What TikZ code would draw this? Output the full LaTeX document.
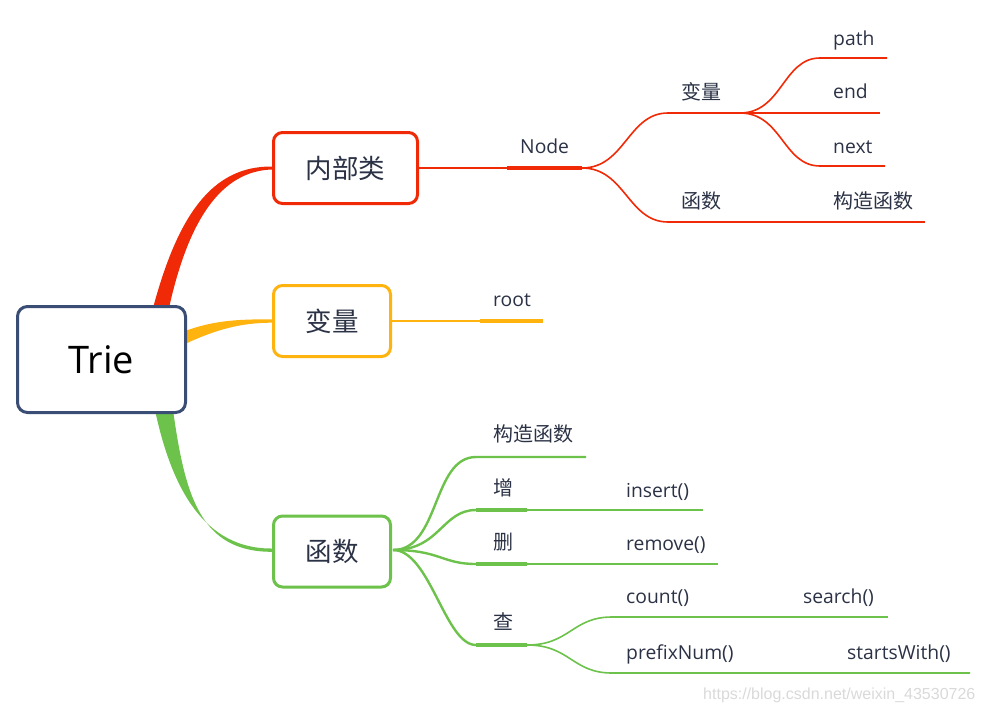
\documentclass[tikz,border=0pt]{standalone}
\usepackage{fontspec}
\setmainfont{Open Sans}
\newfontfamily\cjk{Noto Sans CJK SC}
\newfontfamily\wmfont{Liberation Sans}
\definecolor{cred}{HTML}{F02A07}
\definecolor{corange}{HTML}{FFB30F}
\definecolor{cgreen}{HTML}{6CC24A}
\definecolor{cblue}{HTML}{3A4D75}
\definecolor{ctext}{HTML}{2B3245}
\definecolor{cwm}{HTML}{D9D9D9}
\tikzset{
  mainbox/.style={draw=cblue, line width=3pt, rounded corners=10pt, fill=white,
    minimum width=168pt, minimum height=106pt, inner sep=0pt,
    font=\fontsize{38}{44}\selectfont, text=black},
  topicbox/.style={line width=3pt, rounded corners=9pt, fill=white,
    minimum height=71pt, inner sep=0pt,
    font=\cjk\fontsize{26.5}{30}\selectfont, text=ctext},
  leaf/.style={anchor=base west, inner sep=0pt, text=ctext,
    font=\fontsize{19.3}{23}\selectfont},
  cleaf/.style={anchor=west, inner sep=0pt, text=ctext,
    font=\cjk\fontsize{20}{24}\selectfont},
  thin/.style={line width=1.6pt},
  mid/.style={line width=2.4pt},
  thick/.style={line width=3.4pt}
}
\begin{document}
\begin{tikzpicture}[x=1pt,y=-1pt]
\useasboundingbox (0,0) rectangle (984,712);

% tapered main branches
\fill[cred] (153,308) .. controls (178,215) and (212,166) .. (272,166.5) -- (272,169.5) .. controls (220,171) and (188,222) .. (169,308) -- cycle;
\fill[corange] (185,331) .. controls (215,320) and (240,319.3) .. (272,319.3) -- (272,322.7) .. controls (240,322.7) and (215,330) .. (185,344) -- cycle;
\fill[cgreen] (155,410) .. controls (172,490) and (205,549) .. (272,548.5) -- (272,551.8) .. controls (200,552) and (185,495) .. (173,410) -- cycle;

% boxes
\node[mainbox] (trie) at (101.5,359.5) {Trie};
\node[topicbox, draw=cred, minimum width=144pt] (inner) at (345.5,168) {内部类};
\node[topicbox, draw=corange, minimum width=117pt] (var) at (332,321) {变量};
\node[topicbox, draw=cgreen, minimum width=117pt] (func) at (332,551.5) {函数};

% ---------- red subtree ----------
\coordinate (nA) at (507,168);
\coordinate (nB) at (582,168);
\coordinate (vA) at (668,113);
\coordinate (vB) at (740,113);
\coordinate (fA) at (668,222);
\coordinate (fB) at (733,222);
\coordinate (fC) at (925,222);
\coordinate (pA) at (820,58);
\coordinate (pB) at (887,58);
\coordinate (eB) at (880,113);
\coordinate (xA) at (820,166);
\coordinate (xB) at (885,166);

\draw[cred, mid] (inner.east) -- (nA);
\draw[cred, thick] (nA) -- (nB);
\draw[cred, thin] (nB) .. controls (625,168) and (628,113) .. (vA);
\draw[cred, mid] (vA) -- (vB);
\draw[cred, thin] (nB) .. controls (625,168) and (628,222) .. (fA);
\draw[cred, mid] (fA) -- (fB);
\draw[cred, thin] (fB) -- (fC);
\draw[cred, thin] (vB) .. controls (782,113) and (783,58) .. (pA) -- (pB);
\draw[cred, thin] (vB) -- (eB);
\draw[cred, thin] (vB) .. controls (782,113) and (783,166) .. (xA) -- (xB);

\node[leaf] (lnode) at (520,153) {Node};
\node[cleaf] (lvar) at (681,92) {变量};
\node[cleaf] (lfunc) at (681,201) {函数};
\node[leaf] (lpath) at (833,45) {path};
\node[leaf] (lend) at (833,98) {end};
\node[leaf] (lnext) at (833,153) {next};
\node[cleaf] (lctor) at (833,201) {构造函数};

% ---------- orange subtree ----------
\coordinate (rA) at (480,321);
\coordinate (rB) at (543,321);
\draw[corange, line width=2pt] (var.east) -- (rA);
\draw[corange, thick] (rA) -- (rB);
\node[leaf] (lroot) at (493,306) {root};

% ---------- green subtree ----------
\coordinate (g0) at (393,550);
\coordinate (cA) at (476,457);
\coordinate (cB) at (586,457);
\coordinate (iA) at (476,510);
\coordinate (iB) at (527,510);
\coordinate (iC) at (703,510);
\coordinate (dA) at (476,564);
\coordinate (dB) at (527,564);
\coordinate (dC) at (718,564);
\coordinate (qA) at (476,645);
\coordinate (qB) at (527,645);
\coordinate (sA) at (612,617);
\coordinate (sB) at (705,617);
\coordinate (sC) at (888,617);
\coordinate (tA) at (612,673);
\coordinate (tB) at (970,673);

\draw[cgreen, mid] (g0) .. controls (440,550) and (432,457) .. (cA) -- (cB);
\draw[cgreen, mid] (g0) .. controls (440,550) and (442,510) .. (iA);
\draw[cgreen, thick] (iA) -- (iB);
\draw[cgreen, thin] (iB) -- (iC);
\draw[cgreen, mid] (g0) .. controls (440,550) and (442,564) .. (dA);
\draw[cgreen, thick] (dA) -- (dB);
\draw[cgreen, thin] (dB) -- (dC);
\draw[cgreen, mid] (g0) .. controls (430,550) and (445,645) .. (qA);
\draw[cgreen, thick] (qA) -- (qB);
\draw[cgreen, thin] (qB) .. controls (570,645) and (572,617) .. (sA);
\draw[cgreen, mid] (sA) -- (sB);
\draw[cgreen, thin] (sB) -- (sC);
\draw[cgreen, thin] (qB) .. controls (570,645) and (572,673) .. (tA) -- (tB);

\node[cleaf] (gctor) at (493,434) {构造函数};
\node[cleaf] (gadd) at (493,488) {增};
\node[cleaf] (gdel) at (493,542) {删};
\node[cleaf] (gfind) at (493,622) {查};
\node[leaf] (ginsert) at (626,497) {insert()};
\node[leaf] (gremove) at (626,550) {remove()};
\node[leaf] (gcount) at (626,603) {count()};
\node[leaf] (gsearch) at (803,603) {search()};
\node[leaf] (gprefix) at (626,659) {prefixNum()};
\node[leaf] (gstarts) at (847,659) {startsWith()};

% watermark
\node[anchor=base west, inner sep=0pt, text=cwm, font=\wmfont\fontsize{16}{19}\selectfont] (wm) at (703,699) {https://blog.csdn.net/weixin\_43530726};
\end{tikzpicture}
\end{document}
